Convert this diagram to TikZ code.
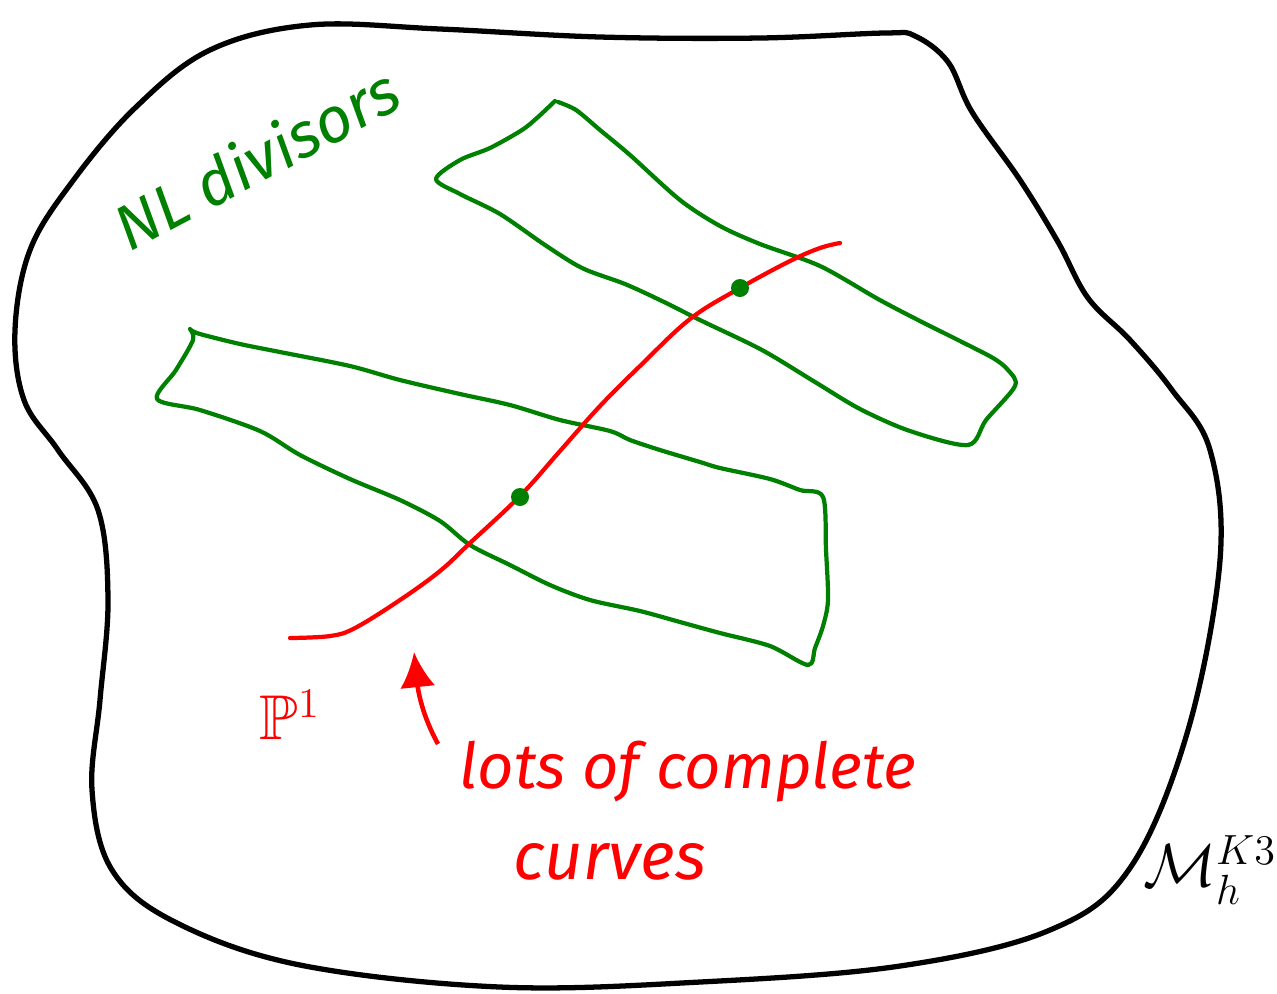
\documentclass[tikz,border=0pt]{standalone}
\usepackage{amsmath}
\usepackage{amssymb}
\usepackage{fontspec}
\setsansfont{Fira Sans}
\usetikzlibrary{arrows.meta}

\definecolor{nlgreen}{RGB}{0,128,0}

\begin{document}
\begin{tikzpicture}[
  x=0.01cm, y=-0.01cm,
  blob/.style={line width=1.5pt, black, line cap=round, line join=round},
  divisor/.style={line width=1.2pt, nlgreen, line cap=round, line join=round},
  curve/.style={line width=1.2pt, red, line cap=round},
  lbl/.style={inner sep=0pt, font=\sffamily\itshape},
  arr/.style={-{Latex[length=10pt, width=10pt]}, line width=1.3pt, red}
]
\useasboundingbox (0,0) rectangle (1277,993);
% moduli space
\draw[blob] plot[smooth cycle, tension=0.6] coordinates {
  (885,33) (760,38) (600,37) (440,29) (310,25) (210,50) (135,108)
  (72,182) (30,250) (15,330) (24,400) (58,450) (98,510) (108,600)
  (100,700) (92,790) (112,870) (175,922) (300,965) (500,987) (700,982)
  (900,966) (1050,930) (1130,868) (1188,730) (1220,560) (1210,450)
  (1172,390) (1130,340) (1088,298) (1058,242) (1020,180) (972,112)
  (948,62) (915,36)};
% NL divisors
\draw[divisor] plot[smooth, tension=0.5] coordinates {
  (555,101) (538,117) (522,130) (490,148) (460,160) (436,179) (460,194)
  (500,214) (545,245) (582,268) (625,284) (662,301) (702,321) (762,350)
  (815,382) (860,409) (910,431) (968,445) (986,420) (1015,386)
  (1008,370) (993,358) (958,340) (918,320) (878,299) (820,266)
  (760,244) (720,226) (680,200) (630,155) (600,130) (576,110) (558,102)};
\draw[divisor] plot[smooth, tension=0.5] coordinates {
  (190,329) (193,340) (176,370) (157,399) (200,410) (260,431) (300,455)
  (350,479) (400,500) (440,521) (470,545) (510,565) (550,585) (590,600)
  (640,611) (680,622) (720,633) (770,646) (808,665) (815,648) (823,626)
  (828,600) (826,550) (823,497) (800,490) (770,479) (720,468) (700,462)
  (660,450) (630,440) (610,431) (560,420) (510,405) (460,394) (400,380)
  (350,366) (280,352) (240,344) (200,334) (191,330)};
% rational curve
\draw[curve] plot[smooth, tension=0.6] coordinates {
  (290,638) (330,636) (355,628) (400,600) (440,571) (470,543) (520,496)
  (560,451) (600,406) (640,366) (690,319) (740,288) (790,261) (820,248) (840,243)};
\fill[nlgreen] (740,288) circle (9);
\fill[nlgreen] (520,497) circle (9);
% labels
\node[lbl, nlgreen, rotate=28, font=\sffamily\itshape\fontsize{18}{20}\selectfont]
  (nl) at (256,158) {NL divisors};
\node[lbl, red, font=\fontsize{18}{20}\selectfont] (p1) at (290,715) {$\mathbb{P}^1$};
\node[lbl, red, font=\sffamily\itshape\fontsize{18}{20}\selectfont]
  (lots) at (688,772) {lots of complete};
\node[lbl, red, font=\sffamily\itshape\fontsize{19}{21}\selectfont]
  (curves) at (610,862) {curves};
\node[lbl, font=\fontsize{18}{20}\selectfont] (mod) at (1210,870) {$\mathcal{M}_h^{K3}$};
\coordinate (tail) at (438,744);
\coordinate (tip) at (414,652);
\draw[arr] (tail) .. controls (422,715) and (418,690) .. (tip);
\end{tikzpicture}
\end{document}
